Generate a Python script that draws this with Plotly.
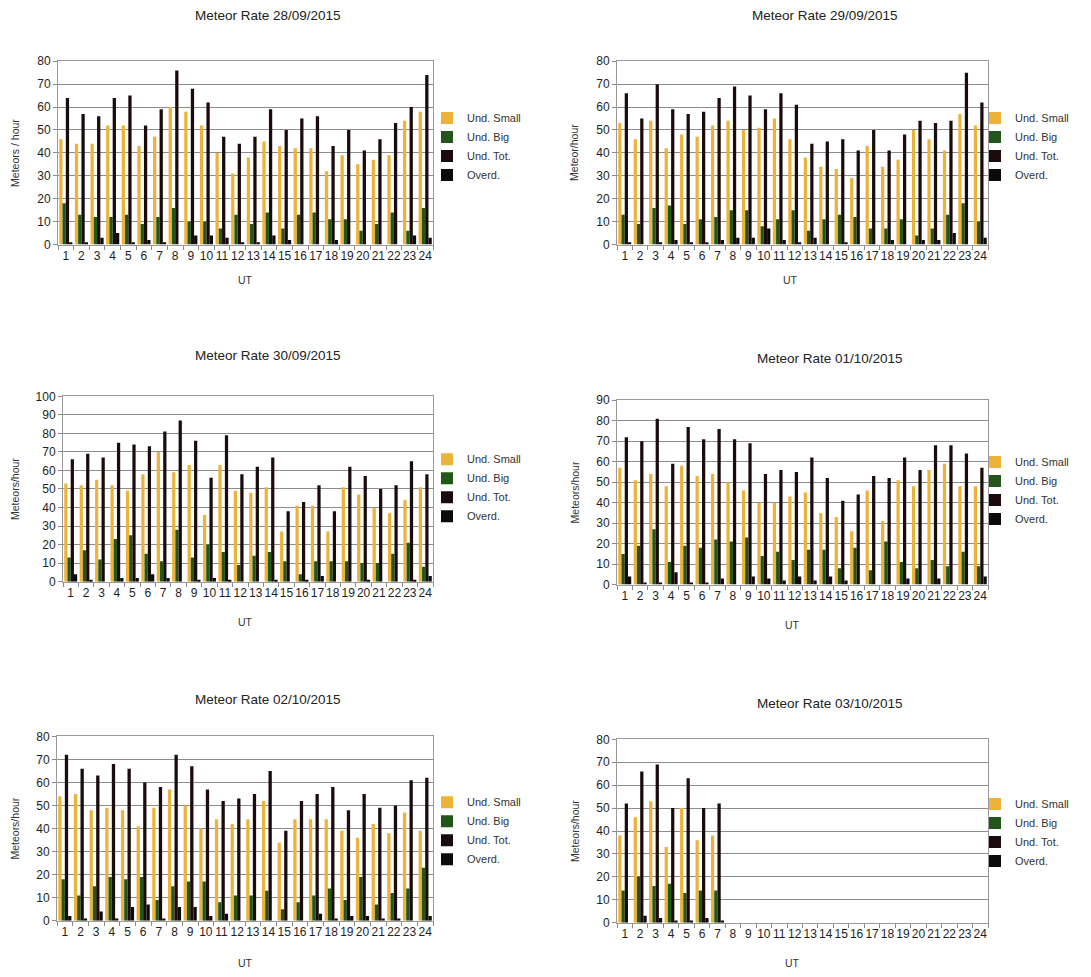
import plotly.graph_objects as go

# Hours (UT) on the category axis
hours = [str(h) for h in range(1, 25)]
series_names = ["Und. Small", "Und. Big", "Und. Tot.", "Overd."]
series_colors = ["#EDB23A", "#23561A", "#1A0C0C", "#0B0B0B"]

# 28/09/2015
small_28_09 = [46, 44, 44, 52, 52, 43, 47, 60, 58, 52, 40, 31, 38, 45, 43, 42, 42, 32, 39, 35, 37, 39, 54, 58]
big_28_09 = [18, 13, 12, 12, 13, 9, 12, 16, 10, 10, 7, 13, 9, 14, 7, 13, 14, 11, 11, 6, 9, 14, 6, 16]
tot_28_09 = [64, 57, 56, 64, 65, 52, 59, 76, 68, 62, 47, 44, 47, 59, 50, 55, 56, 43, 50, 41, 46, 53, 60, 74]
overd_28_09 = [1, 1, 3, 5, 1, 2, 1, 0, 4, 4, 3, 1, 1, 4, 2, 0, 0, 2, 0, 0, 0, 0, 4, 3]

# 29/09/2015
small_29_09 = [53, 46, 54, 42, 48, 47, 52, 54, 50, 51, 55, 46, 38, 34, 33, 29, 43, 34, 37, 50, 46, 41, 57, 52]
big_29_09 = [13, 9, 16, 17, 9, 11, 12, 15, 15, 8, 11, 15, 6, 11, 13, 12, 7, 7, 11, 4, 7, 13, 18, 10]
tot_29_09 = [66, 55, 70, 59, 57, 58, 64, 69, 65, 59, 66, 61, 44, 45, 46, 41, 50, 41, 48, 54, 53, 54, 75, 62]
overd_29_09 = [1, 0, 1, 2, 1, 1, 2, 3, 3, 7, 2, 1, 3, 0, 1, 0, 0, 2, 0, 2, 2, 5, 0, 3]

# 30/09/2015
small_30_09 = [53, 52, 55, 52, 49, 58, 70, 59, 63, 36, 63, 49, 48, 51, 27, 41, 41, 27, 51, 47, 40, 37, 44, 51]
big_30_09 = [13, 17, 12, 23, 25, 15, 11, 28, 13, 20, 16, 9, 14, 16, 11, 4, 11, 11, 11, 10, 10, 15, 21, 8]
tot_30_09 = [66, 69, 67, 75, 74, 73, 81, 87, 76, 56, 79, 58, 62, 67, 38, 43, 52, 38, 62, 57, 50, 52, 65, 58]
overd_30_09 = [4, 1, 0, 2, 2, 4, 2, 0, 1, 2, 1, 0, 0, 1, 0, 1, 3, 0, 0, 1, 0, 0, 1, 3]

# 01/10/2015
small_01_10 = [57, 51, 54, 48, 58, 53, 54, 50, 46, 40, 40, 43, 45, 35, 33, 26, 46, 31, 51, 48, 56, 59, 48, 48]
big_01_10 = [15, 19, 27, 11, 19, 18, 22, 21, 23, 14, 16, 12, 17, 17, 8, 18, 7, 21, 11, 8, 12, 9, 16, 9]
tot_01_10 = [72, 70, 81, 59, 77, 71, 76, 71, 69, 54, 56, 55, 62, 52, 41, 44, 53, 52, 62, 56, 68, 68, 64, 57]
overd_01_10 = [4, 1, 1, 6, 1, 1, 3, 0, 4, 3, 2, 4, 2, 4, 2, 0, 0, 0, 3, 0, 3, 0, 0, 4]

# 02/10/2015
small_02_10 = [54, 55, 48, 49, 48, 41, 49, 57, 50, 40, 44, 42, 44, 52, 34, 44, 44, 44, 39, 36, 42, 38, 47, 39]
big_02_10 = [18, 11, 15, 19, 18, 19, 9, 15, 17, 17, 8, 11, 11, 13, 5, 8, 11, 14, 9, 19, 7, 12, 14, 23]
tot_02_10 = [72, 66, 63, 68, 66, 60, 58, 72, 67, 57, 52, 53, 55, 65, 39, 52, 55, 58, 48, 55, 49, 50, 61, 62]
overd_02_10 = [2, 1, 4, 1, 6, 7, 1, 6, 6, 2, 3, 0, 0, 0, 0, 0, 3, 1, 2, 2, 1, 1, 0, 2]

# 03/10/2015 (observation stopped after hour 7)
small_03_10 = [38, 46, 53, 33, 50, 36, 38] + [None] * 17
big_03_10 = [14, 20, 16, 17, 13, 14, 14] + [None] * 17
tot_03_10 = [52, 66, 69, 50, 63, 50, 52] + [None] * 17
overd_03_10 = [0, 3, 2, 1, 1, 2, 1] + [None] * 17

days = [
    ("Meteor Rate 28/09/2015", "Meteors / hour", 80, [small_28_09, big_28_09, tot_28_09, overd_28_09]),
    ("Meteor Rate 29/09/2015", "Meteor/hour", 80, [small_29_09, big_29_09, tot_29_09, overd_29_09]),
    ("Meteor Rate 30/09/2015", "Meteors/hour", 100, [small_30_09, big_30_09, tot_30_09, overd_30_09]),
    ("Meteor Rate 01/10/2015", "Meteors/hour", 90, [small_01_10, big_01_10, tot_01_10, overd_01_10]),
    ("Meteor Rate 02/10/2015", "Meteors/hour", 80, [small_02_10, big_02_10, tot_02_10, overd_02_10]),
    ("Meteor Rate 03/10/2015", "Meteors/hour", 80, [small_03_10, big_03_10, tot_03_10, overd_03_10]),
]

W, H = 1091, 977
FONT = "Liberation Sans, Arial, sans-serif"

# pixel boxes of each plot area: (left, right, top, bottom)
boxes = [
    (58, 433, 55, 241),
    (617, 988, 55, 241),
    (63, 433, 395, 583),
    (617, 988, 399, 586),
    (57, 433, 740, 927),
    (617, 988, 743, 929),
]
# title centre, y-title x, UT label centre, legend top-left (pixels)
title_pos = [(268, 9), (825, 9), (268, 354), (830, 357), (268, 703), (830, 707)]
ytitle_x = [15, 574, 15, 575, 15, 575]
ut_pos = [(245, 277), (790, 277), (245, 624), (792, 627), (245, 970), (792, 970)]
legend_pos = [(427, 98), (975, 98), (427, 444), (975, 447), (427, 792), (975, 794)]


def px_x(x):
    return x / W


def px_y(y):
    return 1 - y / H


def label(text, x, y, size, angle=0, color="#333333"):
    return dict(
        text=text, x=px_x(x), y=px_y(y), xref="paper", yref="paper",
        xanchor="center", yanchor="middle", showarrow=False, textangle=angle,
        font=dict(family=FONT, size=size, color=color),
    )


fig = go.Figure()
layout = dict(
    width=W, height=H,
    margin=dict(l=0, r=0, t=0, b=0),
    paper_bgcolor="white", plot_bgcolor="white",
    barmode="group", bargap=0.16, bargroupgap=0.0,
    font=dict(family=FONT, size=12, color="#333333"),
    annotations=[],
)

for i, (title, ytitle, ymax, vals) in enumerate(days):
    n = i + 1
    sfx = "" if n == 1 else str(n)
    leg = "legend" if n == 1 else f"legend{n}"
    for name, color, v in zip(series_names, series_colors, vals):
        fig.add_trace(go.Bar(
            x=hours, y=v, name=name, marker=dict(color=color, line=dict(width=0)),
            xaxis=f"x{sfx}", yaxis=f"y{sfx}", legend=leg,
        ))
    l, r, t, b = boxes[i]
    layout[f"xaxis{sfx}"] = dict(
        domain=[px_x(l), px_x(r)], anchor=f"y{sfx}", type="category",
        categoryorder="array", categoryarray=hours,
        tickson="boundaries", ticks="outside", ticklen=4, tickcolor="#8a8a8a",
        tickangle=0,
        showline=True, mirror=True, linecolor="#9a9a9a", linewidth=1,
        showgrid=False, fixedrange=True,
        tickfont=dict(family=FONT, size=12, color="#1e1e1e"),
    )
    layout[f"yaxis{sfx}"] = dict(
        domain=[px_y(b), px_y(t)], anchor=f"x{sfx}", range=[0, ymax], dtick=10,
        showgrid=True, gridcolor="#8c8c8c", gridwidth=1,
        showline=True, mirror=True, linecolor="#9a9a9a", linewidth=1,
        ticks="outside", ticklen=4, tickcolor="#8a8a8a", zeroline=False,
        tickfont=dict(family=FONT, size=12, color="#1e1e1e"), fixedrange=True,
    )
    lx, ly = legend_pos[i]
    layout[leg] = dict(
        x=px_x(lx), y=px_y(ly), xanchor="left", yanchor="top",
        bgcolor="rgba(0,0,0,0)", font=dict(family=FONT, size=11, color="#333333"),
        itemwidth=30, tracegroupgap=0,
    )
    tx, ty = title_pos[i]
    layout["annotations"].append(label(title, tx, ty, 13.5, color="#222222"))
    layout["annotations"].append(label(ytitle, ytitle_x[i], (t + b) / 2, 10.5, angle=-90))
    ux, uy = ut_pos[i]
    layout["annotations"].append(label("UT", ux, uy, 10.5))

fig.update_layout(**layout)
fig.write_html("out.html")
